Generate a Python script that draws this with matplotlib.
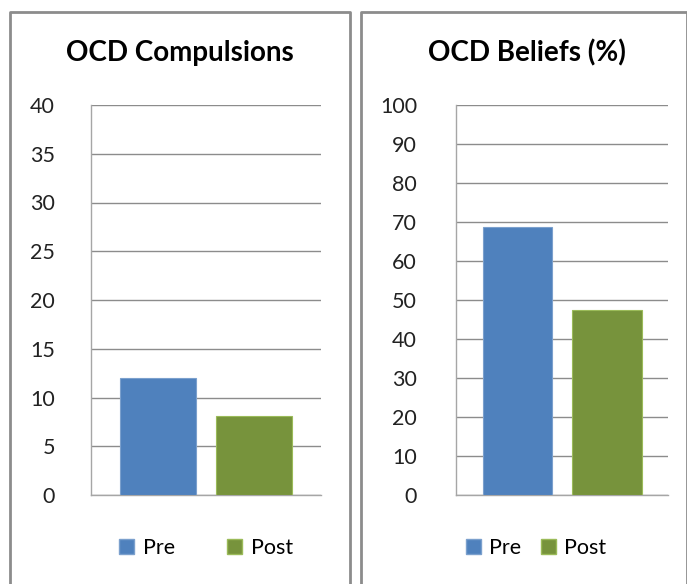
import matplotlib.pyplot as plt
from matplotlib.patches import Patch
from matplotlib.lines import Line2D

plt.rcParams['font.family'] = ['Lato', 'DejaVu Sans']

series = ['Pre', 'Post']
colors = ['#4F81BD', '#77933C']
edges = ['#7BA0CD', '#9BBB59']

comp_vals = [12.0, 8.1]
comp_ticks = [0, 5, 10, 15, 20, 25, 30, 35, 40]

belief_vals = [68.6, 47.4]
belief_ticks = [0, 10, 20, 30, 40, 50, 60, 70, 80, 90, 100]

W, H = 687, 584
fig = plt.figure(figsize=(W / 100, H / 100), dpi=100)

# panel frames
border = '#8C8C8C'
for x0, x1 in [(10, 350), (361, 687)]:
    xs = [x0 / W, x0 / W, x1 / W, x1 / W]
    ys = [0, 1 - 12 / H, 1 - 12 / H, 0]
    fig.add_artist(Line2D(xs, ys, color=border, lw=2, transform=fig.transFigure))


def panel(rect, vals, ticks, title, title_x, pad, leg_x, colsp):
    ax = fig.add_axes(rect)
    xpos = [-0.42, 0.42]
    for i in range(2):
        ax.bar(xpos[i], vals[i], width=0.66, color=colors[i],
               edgecolor=edges[i], linewidth=0.8, zorder=3)
    ax.set_xlim(-1, 1)
    ax.set_ylim(ticks[0], ticks[-1])
    ax.set_yticks(ticks)
    ax.set_xticks([])
    ax.grid(axis='y', color='#8C8C8C', lw=1, zorder=0)
    for s in ['top', 'right']:
        ax.spines[s].set_visible(False)
    for s in ['left', 'bottom']:
        ax.spines[s].set_color('#A6A6A6')
        ax.spines[s].set_linewidth(1)
    ax.tick_params(axis='y', length=0, pad=pad, labelsize=15.5, labelcolor='#222222')
    fig.text(title_x / W, 1 - 53 / H, title, ha='center', va='center',
             fontsize=20, fontweight='bold', color='black')
    handles = [Patch(facecolor=colors[i], edgecolor=edges[i], label=series[i])
               for i in range(2)]
    fig.legend(handles=handles, loc='center', bbox_to_anchor=(leg_x / W, 1 - 548 / H),
               ncol=2, frameon=False, fontsize=15.5, handlelength=0.7,
               handleheight=0.7, handletextpad=0.4, columnspacing=colsp)
    return ax


panel([91 / W, 1 - 495 / H, 230 / W, 390 / H], comp_vals, comp_ticks,
      'OCD Compulsions', 180, 26, 206, 2.4)
panel([456 / W, 1 - 495 / H, 212 / W, 390 / H], belief_vals, belief_ticks,
      'OCD Beliefs (%)', 527, 28, 536, 0.9)

fig.savefig('out.png', dpi=100)
